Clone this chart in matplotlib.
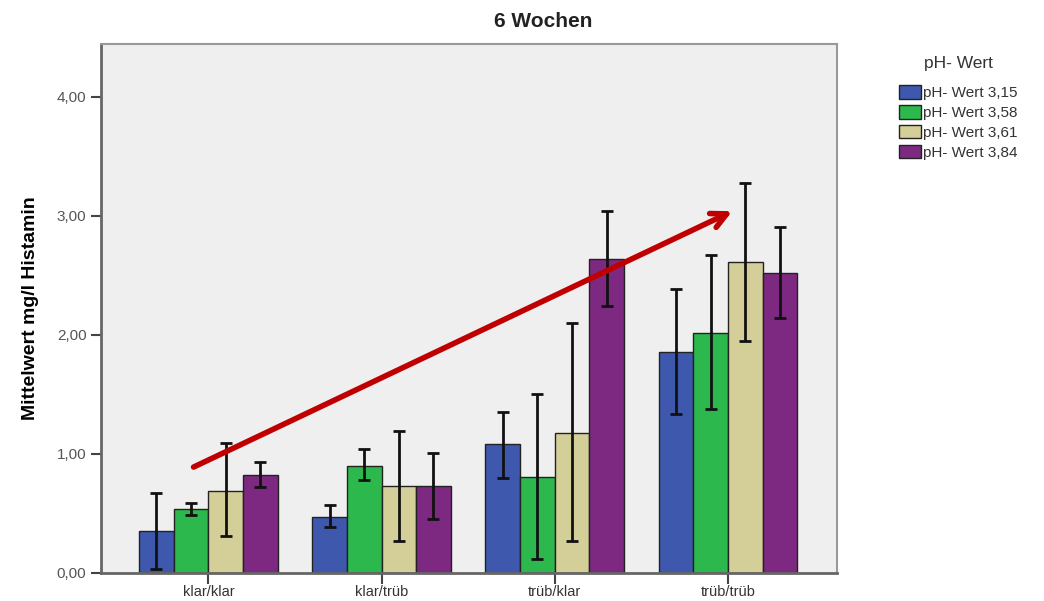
import matplotlib
matplotlib.use("Agg")
import matplotlib.pyplot as plt
import numpy as np

categories = ["klar/klar", "klar/trüb", "trüb/klar", "trüb/trüb"]
series = ["pH- Wert 3,15", "pH- Wert 3,58", "pH- Wert 3,61", "pH- Wert 3,84"]
means = {
    "pH- Wert 3,15": [0.35, 0.47, 1.08, 1.86],
    "pH- Wert 3,58": [0.54, 0.90, 0.81, 2.02],
    "pH- Wert 3,61": [0.69, 0.73, 1.18, 2.61],
    "pH- Wert 3,84": [0.82, 0.73, 2.64, 2.52],
}
err_low = {
    "pH- Wert 3,15": [0.03, 0.39, 0.80, 1.34],
    "pH- Wert 3,58": [0.49, 0.78, 0.12, 1.38],
    "pH- Wert 3,61": [0.31, 0.27, 0.27, 1.95],
    "pH- Wert 3,84": [0.72, 0.45, 2.24, 2.14],
}
err_high = {
    "pH- Wert 3,15": [0.67, 0.57, 1.35, 2.39],
    "pH- Wert 3,58": [0.59, 1.04, 1.50, 2.67],
    "pH- Wert 3,61": [1.09, 1.19, 2.10, 3.28],
    "pH- Wert 3,84": [0.93, 1.01, 3.04, 2.91],
}
yticks = [0, 1, 2, 3, 4]
ytick_labels = ["0,00", "1,00", "2,00", "3,00", "4,00"]
colors = ["#3d58ad", "#2db84d", "#d4cf98", "#7e2981"]

plt.rcParams['font.family'] = ['Liberation Sans', 'DejaVu Sans']

fig = plt.figure(figsize=(10.44, 6.01), dpi=100)
ax = fig.add_axes([101/1044, (601-573)/601, (837-101)/1044, (573-44)/601])
ax.set_facecolor("#efefef")

x = np.arange(len(categories))
w = 0.2
handles = []
for i, s in enumerate(series):
    pos = x + (i - 1.5) * w
    m = np.array(means[s])
    lo = m - np.array(err_low[s])
    hi = np.array(err_high[s]) - m
    b = ax.bar(pos, m, width=w, color=colors[i], edgecolor="#222222", linewidth=1.0, zorder=2, label=s)
    ax.errorbar(pos, m, yerr=[lo, hi], fmt="none", ecolor="#111111", elinewidth=2.0, capsize=4, capthick=2.0, zorder=3)
    handles.append(b)

ax.set_xlim(-0.62, 3.63)
ax.set_ylim(0, 4.445)
ax.set_yticks(yticks)
ax.set_yticklabels(ytick_labels, color="#555555", fontsize=11)
ax.set_xticks(x)
ax.set_xticklabels(categories, color="#333333", fontsize=10.5)
ax.tick_params(axis="y", direction="out", length=7, width=1.5, color="#444444")
ax.tick_params(axis="x", direction="out", length=8, width=1.5, color="#444444", pad=1)
for side in ["top", "right"]:
    ax.spines[side].set_color("#999999")
    ax.spines[side].set_linewidth(1.5)
for side in ["left", "bottom"]:
    ax.spines[side].set_color("#666666")
    ax.spines[side].set_linewidth(2.0)

ax.set_ylabel("Mittelwert mg/l Histamin", fontsize=14, fontweight="bold",
              family=['Liberation Sans Narrow', 'Liberation Sans', 'DejaVu Sans'], labelpad=13)

ax.annotate("", xy=(3.04, 3.05), xytext=(-0.1, 0.88),
            arrowprops=dict(arrowstyle="->,head_length=1.1,head_width=0.55", color="#c00000", lw=4),
            zorder=5)

fig.text(0.52, 0.965, "6 Wochen", ha="center", va="center", fontsize=15, fontweight="bold", color="#222222")

leg = fig.legend(handles=handles, labels=series, title="pH- Wert", loc="upper left",
                 bbox_to_anchor=(0.855, 0.917), frameon=False, fontsize=11,
                 title_fontsize=12.5, handlelength=1.45, handleheight=1.0, handletextpad=0.15,
                 labelspacing=0.32, borderaxespad=0)
leg._legend_box.sep = 10
for t in leg.get_texts():
    t.set_color("#333333")
leg.get_title().set_color("#333333")

fig.savefig("out.png", dpi=100)
